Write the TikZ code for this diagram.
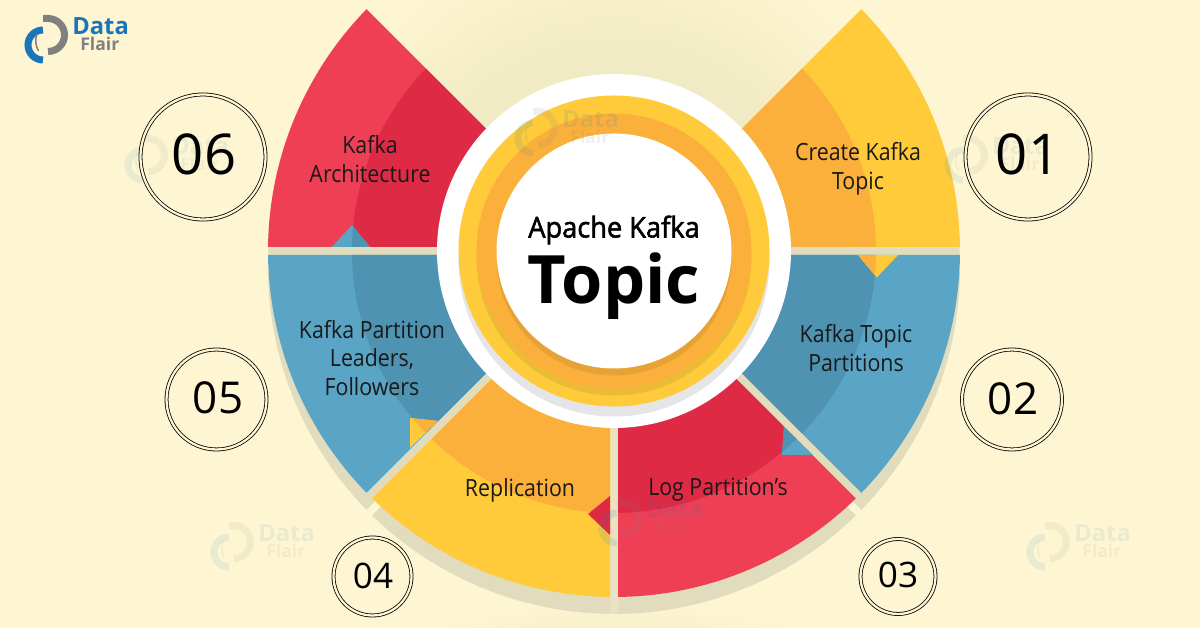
\documentclass[tikz,border=0pt]{standalone}
\usepackage{fontspec}
\setmainfont{Open Sans}[FakeStretch=0.9]
\newfontfamily\widefont{Open Sans}
\newfontfamily\semifont{Open Sans}[FakeBold=1.8,FakeStretch=0.95]
\definecolor{bgcream}{HTML}{FEF6D2}
\definecolor{halocream}{HTML}{F1EBC5}
\definecolor{dropband}{HTML}{E1DCBE}
\definecolor{gapband}{HTML}{E9E3C3}
\definecolor{ylight}{HTML}{FFCB3B}
\definecolor{ydark}{HTML}{FBB03B}
\definecolor{blight}{HTML}{5AA5C6}
\definecolor{bdark}{HTML}{4F93B2}
\definecolor{rlight}{HTML}{EF3F55}
\definecolor{rdark}{HTML}{DF2A46}
\definecolor{ringgrey}{HTML}{E5E5E7}
\definecolor{logoblue}{HTML}{1B75BB}
\definecolor{logogrey}{HTML}{808080}
\colorlet{edgecream}{halocream!45!bgcream}
\pgfdeclareradialshading{halo}{\pgfpoint{0bp}{0bp}}{color(0bp)=(halocream);color(15bp)=(halocream);color(25bp)=(bgcream);color(50bp)=(bgcream)}
\pgfdeclareradialshading{edgehalo}{\pgfpoint{0bp}{0bp}}{color(0bp)=(edgecream);color(8bp)=(edgecream);color(25bp)=(bgcream);color(50bp)=(bgcream)}
\tikzset{
	numring/.style={circle,draw=black,line width=0.45pt,double=bgcream,double distance=1.3pt,inner sep=0},
	numtext/.style={inner sep=0,text=black},
	sectortext/.style={inner sep=0,align=center,text=black!90,font=\fontsize{13.5}{16.4}\selectfont}
}
% one slice of the ring, 4 px back from each of its radial edges
\newcommand{\pieslice}[4]{
	\pgfmathsetmacro{\ao}{#1+asin(4/#3)}
	\pgfmathsetmacro{\bo}{#2-asin(4/#3)}
	\pgfmathsetmacro{\ai}{#1+asin(4/100)}
	\pgfmathsetmacro{\bi}{#2-asin(4/100)}
	\fill [#4] (\ao:#3) arc [start angle=\ao, end angle=\bo, radius=#3] -- (\bi:100) -- (\ai:100) -- cycle;
}
% triangle, split in two tones by the inner arc
\newcommand{\twotone}[3]{
	\begin{scope}
		\clip #1 -- cycle;
		\fill [#2] (0,0) circle (346);
		\fill [#3] (0,0) circle (262);
	\end{scope}
}
\newcommand{\dataflair}[4]{
	\begin{scope}[shift={(#1,628-#2)},opacity=#3]
		\draw [logoblue,line width=0.14cm] (43,-30) arc [start angle=90, end angle=270, radius=15];
		\draw [logogrey,line width=0.14cm] (43,-18.5) -- (48,-18.5) arc [start angle=90, end angle=-90, radius=16.5];
		\draw [logogrey,line width=0.03cm] (37,-34) arc [start angle=160, end angle=210, radius=20];
		\node (#4data) [anchor=base west,inner sep=0,text=logoblue,font=\fontsize{13.5}{13.5}\selectfont\widefont\bfseries] at (72,-35) {Data};
		\node (#4flair) [anchor=base west,inner sep=0,text=logogrey,font=\fontsize{10}{10}\selectfont\widefont\bfseries] at (80,-51) {Flair};
	\end{scope}
}
\begin{document}
\begin{tikzpicture}[x=0.02cm,y=0.02cm]
	\clip (0,0) rectangle (1200,628);
	\fill [bgcream] (0,0) rectangle (1200,628);
	
	% soft shade behind everything
	\shade [shading=edgehalo] (620,628) ellipse (260 and 24);
	\shade [shading=edgehalo] (614,0) ellipse (180 and 26);
	\shade [shading=halo] (614,377) circle (330);
	\fill [gapband] (610,248) rectangle (618,14);
	
	\begin{scope}[shift={(614,377)}]
		% drop band
		\pieslice{135}{180}{346}{dropband,shift={(0,-17)}}
		\pieslice{180}{225}{346}{dropband,shift={(0,-17)}}
		\pieslice{225}{270}{346}{dropband,shift={(0,-17)}}
		\pieslice{270}{315}{346}{dropband,shift={(0,-17)}}
		\pieslice{315}{360}{346}{dropband,shift={(0,-17)}}
		\pieslice{0}{45}{346}{dropband,shift={(0,-17)}}
		
		% slices
		\pieslice{0}{45}{346}{ylight}
		\pieslice{0}{45}{262}{ydark}
		\pieslice{315}{360}{346}{blight}
		\pieslice{315}{360}{262}{bdark}
		\pieslice{270}{315}{346}{rlight}
		\pieslice{270}{315}{262}{rdark}
		\pieslice{225}{270}{346}{ylight}
		\pieslice{225}{270}{262}{ydark}
		\pieslice{180}{225}{346}{blight}
		\pieslice{180}{225}{262}{bdark}
		\pieslice{135}{180}{346}{rlight}
		\pieslice{135}{180}{262}{rdark}
		
		% small triangles over the gaps
		\twotone{(-282,4) -- (-262,26) -- (-244,4)}{blight}{bdark}
		\twotone{(244,-4) -- (262.7,-26.5) -- (284,-4)}{ylight}{ydark}
		\twotone{(170,-176) -- (168,-204) -- (199,-204)}{blight}{bdark}
		\twotone{(-204,-167) -- (-176,-170) -- (-204,-197)}{ylight}{ydark}
		\fill [rdark] (-26,-263) -- (-4,-245) -- (-4,-284) -- cycle;
		
		% centre rings
		\fill [white] (0,0) circle (177);
		\fill [ringgrey] (0,-10) circle (155.5);
		\fill [ylight] (0,0) circle (155.5);
		\fill [ylight!92!black] (0,-7) circle (137.5);
		\fill [ydark] (0,0) circle (137.5);
		\fill [ydark!92!black] (0,-7) circle (117.5);
		\fill [white] (0,0) circle (117.5);
	\end{scope}
	
	% watermarks and logo
	\dataflair{100}{120}{0.09}{wma}
	\dataflair{490}{93}{0.12}{wmb}
	\dataflair{920}{120}{0.09}{wmc}
	\dataflair{186}{507}{0.09}{wmd}
	\dataflair{574}{483}{0.12}{wme}
	\dataflair{1002}{507}{0.09}{wmf}
	\dataflair{0}{0}{1}{logo}
	
	\node (title) [inner sep=0,text=black,font=\fontsize{16.3}{16.3}\selectfont\semifont] at (614,398) {Apache Kafka};
	\node (topic) [inner sep=0,text=black,font=\fontsize{38}{38}\selectfont\widefont\bfseries] at (614,342) {Topic};
	
	\node (create) [sectortext] at (858,459.5) {Create Kafka\\Topic};
	\node (parts) [sectortext] at (856,280) {Kafka Topic\\Partitions};
	\node (logs) [sectortext] at (718,138) {Log Partition’s};
	\node (repl) [sectortext] at (520,138) {Replication};
	\node (leaders) [sectortext] at (372,270) {Kafka Partition\\Leaders,\\Followers};
	\node (arch) [sectortext] at (370,469) {Kafka\\Architecture};
	
	\node (ring06) [numring,minimum size=2.5cm] at (203,471) {};
	\node (ring01) [numring,minimum size=2.5cm] at (1028,471) {};
	\node (ring05) [numring,minimum size=2cm] at (216.5,228.5) {};
	\node (ring02) [numring,minimum size=2cm] at (1012,228.5) {};
	\node (ring04) [numring,minimum size=1.56cm] at (372.5,51.5) {};
	\node (ring03) [numring,minimum size=1.5cm] at (898,51.5) {};
	
	\node (num06) [numtext,font=\fontsize{32}{32}\selectfont\widefont] at (204,474) {06};
	\node (num01) [numtext,font=\fontsize{32}{32}\selectfont\widefont] at (1028,474) {01};
	\node (num05) [numtext,font=\fontsize{25}{25}\selectfont\widefont] at (218,230) {05};
	\node (num02) [numtext,font=\fontsize{25}{25}\selectfont\widefont] at (1013,229) {02};
	\node (num04) [numtext,font=\fontsize{20}{20}\selectfont\widefont] at (373,52.5) {04};
	\node (num03) [numtext,font=\fontsize{20}{20}\selectfont\widefont] at (898,53) {03};
\end{tikzpicture}
\end{document}
